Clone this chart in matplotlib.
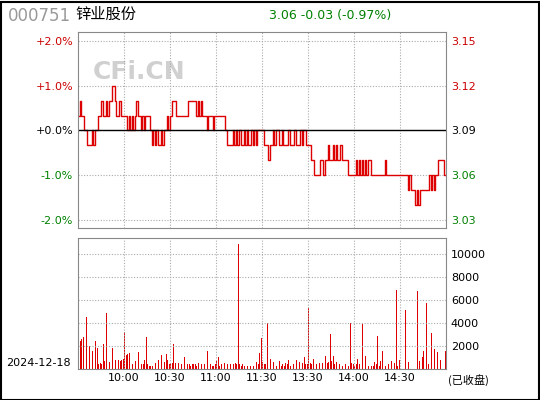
import matplotlib.pyplot as plt
import numpy as np

plt.rcParams['font.family'] = ['DejaVu Sans', 'Noto Sans CJK SC']

prev_close = 3.09
# price offset from previous close, in cents, one per minute
price_cents = [
    1, 2, 1, 1, 0, 0, -1, -1, -1, 0, -1, 0, 0, 1, 1, 2, 1, 1, 2, 1,
    2, 2, 3, 3, 2, 1, 1, 2, 1, 1,
    1, 1, 0, 1, 0, 1, 0, 1, 2, 1,
    1, 0, 1, 0, 1, 1, 1, 0, -1, 0,
    -1, 0, -1, -1, 0, -1, 0, 0, 1, 0,
    1, 2, 2, 2, 1, 1, 1, 1, 1, 1,
    1, 1, 2, 2, 2, 2, 2, 1, 2, 1,
    2, 1, 1, 1, 0, 1, 1, 1, 0, 1,
    1, 1, 1, 1, 1, 1, 0, -1, -1, -1,
    -1, 0, -1, 0, -1, 0, -1, -1, 0, -1,
    0, -1, -1, 0, -1, 0, -1, 0, 0, 0,
    0, -1, -1, -1, -2, -1, -1, 0, -1, 0,
    0, -1, -1, 0, -1, -1, -1, 0, -1, -1,
    -1, 0, -1, -1, -1, 0, -1, 0, 0, -1,
    -1, -1, -2, -2, -3, -3, -3, -3, -2, -2,
    -3, -2, -2, -1, -2, -2, -1, -2, -1, -2,
    -2, -1, -2, -2, -2, -2, -3, -3, -3, -3,
    -3, -2, -3, -2, -3, -2, -3, -2, -3, -2,
    -2, -3, -3, -3, -3, -3, -3, -3, -3, -3,
    -2, -3, -3, -3, -3, -3, -3, -3, -3, -3,
    -3, -3, -3, -3, -3, -4, -3, -4, -4, -4,
    -5, -4, -5, -4, -4, -4, -4, -4, -4, -3,
    -4, -3, -4, -3, -3, -2, -2, -2, -2, -3,
]
volume = [
    600, 2400, 2600, 2800, 1200, 4500, 2900, 2000, 1000, 1600,
    400, 2400, 1800, 400, 500, 400, 2200, 700, 4900, 2100,
    600, 700, 1800, 600, 800, 1100, 800, 700, 800, 900,
    3200, 1200, 1300, 1400, 900, 400, 400, 700, 900, 1500,
    1500, 400, 400, 800, 2800, 400, 300, 300, 300, 4200,
    500, 600, 800, 400, 1200, 400, 600, 1300, 800, 400,
    500, 500, 2200, 500, 400, 500, 1600, 400, 1500, 1000,
    400, 400, 400, 300, 400, 400, 400, 300, 500, 400,
    400, 500, 400, 800, 1600, 400, 400, 300, 300, 400,
    700, 1000, 300, 400, 400, 500, 3300, 400, 300, 400,
    500, 400, 500, 400, 10900, 400, 300, 400, 300, 400,
    300, 900, 300, 400, 300, 400, 600, 400, 1400, 2700,
    600, 400, 400, 4000, 600, 900, 300, 600, 400, 300,
    400, 700, 300, 400, 300, 500, 400, 800, 300, 1400,
    400, 500, 800, 900, 600, 400, 500, 1000, 400, 400,
    5300, 500, 400, 900, 500, 400, 10700, 500, 400, 500,
    900, 1100, 500, 600, 3000, 700, 1100, 400, 600, 300,
    400, 400, 300, 400, 400, 300, 300, 4000, 500, 400,
    300, 400, 900, 400, 6500, 3900, 1000, 1100, 900, 300,
    300, 300, 300, 600, 400, 2900, 300, 700, 1600, 1100,
    300, 700, 400, 300, 700, 400, 500, 6900, 300, 800,
    0, 0, 0, 5100, 300, 600, 1500, 0, 3200, 0,
    0, 6800, 700, 0, 1000, 1600, 0, 5700, 400, 300,
    3100, 500, 1700, 1300, 1500, 1000, 800, 0, 0, 1600,
]
price_ticks = [3.15, 3.12, 3.09, 3.06, 3.03]
pct_labels = ['+2.0%', '+1.0%', '+0.0%', '-1.0%', '-2.0%']
tick_colors = ['#cc0000', '#cc0000', 'black', 'green', 'green']
time_labels = ['10:00', '10:30', '11:00', '11:30', '13:30', '14:00', '14:30']
vol_ticks = [2000, 4000, 6000, 8000, 10000]

W, H = 540, 400
fig = plt.figure(figsize=(5.4, 4.0), dpi=100)
fig.patches.append(plt.Rectangle((0.5 / W, 0.5 / H), 1 - 2 / W, 1 - 2 / H, transform=fig.transFigure,
                                 fill=False, edgecolor='black', lw=1.5))

def box(x0, y0, x1, y1):
    return [x0 / W, 1 - y1 / H, (x1 - x0) / W, (y1 - y0) / H]

ax = fig.add_axes(box(78, 32, 446, 228))
axv = fig.add_axes(box(78, 238, 446, 369))

x = np.arange(len(price_cents)) + 0.5
price = prev_close + np.array(price_cents) / 100
grid_x = [30, 60, 90, 120, 150, 180, 210]

for a in (ax, axv):
    a.set_xlim(0, 240)
    for s in a.spines.values():
        s.set_color('#888888')
    a.set_xticks(grid_x)
    a.grid(True, color='#aaaaaa', ls=(0, (1, 1.5)), lw=0.8)
    a.tick_params(length=0)

ax.plot(x, price, color='#dd0000', lw=1.0, drawstyle='steps-mid')
ax.axhline(prev_close, color='black', lw=1)
ax.set_ylim(3.0246, 3.156)
ax.set_yticks(price_ticks)
ax.set_yticklabels(pct_labels, fontsize=8)
ax.set_xticklabels([])
for lab, c in zip(ax.get_yticklabels(), tick_colors):
    lab.set_color(c)
ax2 = ax.twinx()
ax2.set_ylim(ax.get_ylim())
ax2.set_yticks(price_ticks)
ax2.set_yticklabels(['%.2f' % p for p in price_ticks], fontsize=8)
ax2.tick_params(length=0)
for s in ax2.spines.values():
    s.set_visible(False)
for lab, c in zip(ax2.get_yticklabels(), tick_colors):
    lab.set_color(c)
ax.text(0.04, 0.76, 'CFi.CN', transform=ax.transAxes, fontsize=18, fontweight='bold',
        color='#d0d0d0', zorder=0)

axv.bar(x, volume, width=0.5, color='#dd0000')
axv.set_ylim(0, 11390)
axv.set_yticks([])
axv.set_xticklabels(time_labels, fontsize=8)
axv.tick_params(axis='x', pad=3)
axr = axv.twinx()
axr.set_ylim(axv.get_ylim())
axr.set_yticks(vol_ticks)
axr.set_yticklabels([str(v) for v in vol_ticks], fontsize=8)
axr.tick_params(length=0)
for s in axr.spines.values():
    s.set_visible(False)
axv.grid(True, axis='y', color='#aaaaaa', ls=(0, (1, 1.5)), lw=0.8)
axv.set_yticks(vol_ticks)
axv.set_yticklabels([])

fig.text(8 / W, 1 - 16 / H, '000751', fontsize=12, color='#999999', va='center')
fig.text(75 / W, 1 - 14 / H, '锌业股份', fontsize=11, family=['Noto Sans CJK SC'], va='center')
fig.text(330 / W, 1 - 15 / H, '3.06 -0.03 (-0.97%)', fontsize=9, color='green', ha='center', va='center')
fig.text(6 / W, 1 - 363 / H, '2024-12-18', fontsize=8, va='center')
fig.text(448 / W, 1 - 380 / H, '(已收盘)', fontsize=8, family=['Noto Sans CJK SC'], va='center')

fig.savefig('out.png', dpi=100)
